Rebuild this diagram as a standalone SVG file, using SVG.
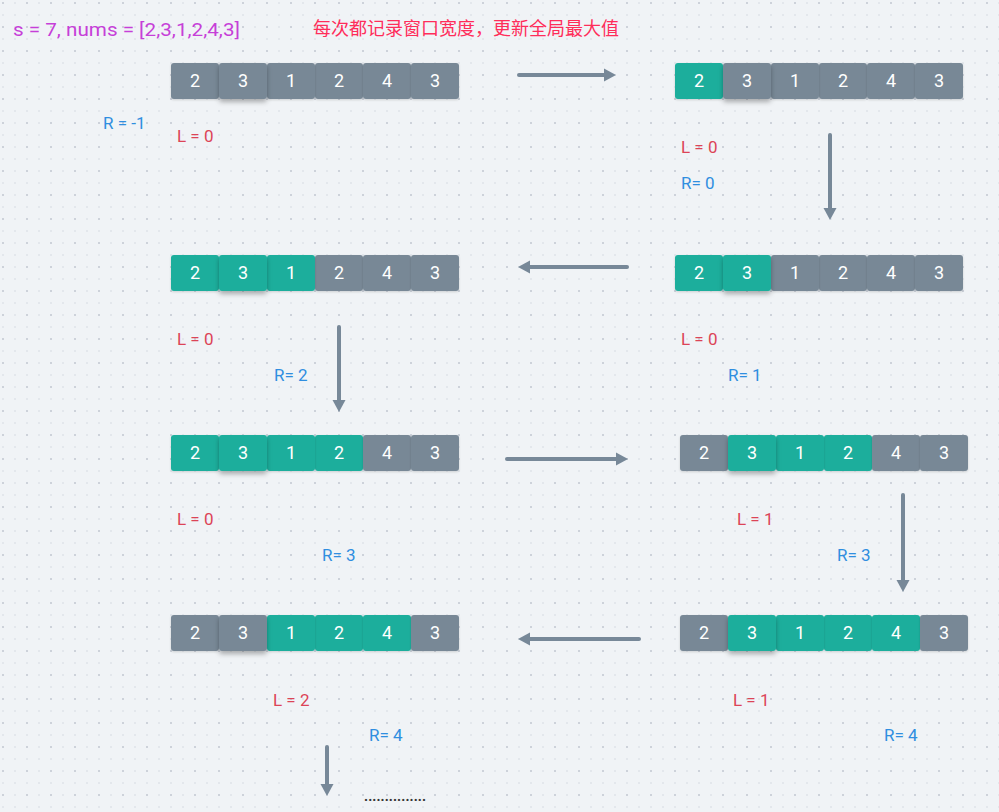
<svg xmlns="http://www.w3.org/2000/svg" width="999" height="812" viewBox="0 0 999 812">
<defs>
<pattern id="grid" x="0" y="0" width="24" height="24" patternUnits="userSpaceOnUse">
<rect x="2" y="2" width="2" height="2" fill="#cdd2da"/>
<rect x="14" y="2" width="2" height="2" fill="#e3e7ec"/>
<rect x="2" y="14" width="2" height="2" fill="#e3e7ec"/>
<rect x="14" y="14" width="2" height="2" fill="#e3e7ec"/>
</pattern>
<filter id="sh" x="-20%" y="-20%" width="140%" height="160%">
<feDropShadow dx="0" dy="1" stdDeviation="1" flood-color="#000" flood-opacity="0.15"/>
</filter>
<filter id="sh2" x="-30%" y="-30%" width="160%" height="190%">
<feDropShadow dx="0" dy="3" stdDeviation="2.5" flood-color="#000" flood-opacity="0.3"/>
</filter>
<marker id="ah" markerUnits="userSpaceOnUse" markerWidth="12" markerHeight="14" refX="2" refY="7" orient="auto">
<path d="M0,0.5 L12,7 L0,13.5 z" fill="#778898"/>
</marker>
</defs>
<style>
.g{fill:#788896}
.t{fill:#1aae9c}
.c{filter:url(#sh)}
.c2{filter:url(#sh2)}
.n{font-family:Roboto,"Liberation Sans",sans-serif;font-size:18px;fill:#fff;text-anchor:middle}
.lab{font-family:Roboto,"Liberation Sans",sans-serif;font-size:17px}
.L{fill:#dc4457}
.R{fill:#2f8ee0}
.arr{stroke:#778898;stroke-width:4;stroke-linecap:round;fill:none;marker-end:url(#ah)}
</style>
<rect width="999" height="812" fill="#f0f3f6"/>
<rect width="999" height="812" fill="url(#grid)"/>

<text x="13" y="36" font-family="Roboto,'Liberation Sans',sans-serif" font-size="19" fill="#c63fd8" textLength="227" lengthAdjust="spacingAndGlyphs">s = 7, nums = [2,3,1,2,4,3]</text>
<text x="313" y="35" font-family="'Noto Sans CJK SC',sans-serif" font-size="18" fill="#ff2d5a">每次都记录窗口宽度，更新全局最大值</text>

<g id="row1-left">
<rect class="c g" x="171" y="63" width="48" height="36" rx="3"/>
<rect class="c g" x="315" y="63" width="48" height="36" rx="3"/>
<rect class="c g" x="363" y="63" width="48" height="36" rx="3"/>
<rect class="c g" x="411" y="63" width="48" height="36" rx="3"/>
<rect class="c g" x="267" y="63" width="48" height="36" rx="3"/>
<rect class="c2 g" x="219" y="63" width="48" height="36" rx="3"/>
<text class="n" x="195" y="87">2</text><text class="n" x="243" y="87">3</text><text class="n" x="291" y="87">1</text><text class="n" x="339" y="87">2</text><text class="n" x="387" y="87">4</text><text class="n" x="435" y="87">3</text>
</g>
<g id="row1-right">
<rect class="c t" x="675" y="63" width="48" height="36" rx="3"/>
<rect class="c g" x="819" y="63" width="48" height="36" rx="3"/>
<rect class="c g" x="867" y="63" width="48" height="36" rx="3"/>
<rect class="c g" x="915" y="63" width="48" height="36" rx="3"/>
<rect class="c g" x="771" y="63" width="48" height="36" rx="3"/>
<rect class="c2 g" x="723" y="63" width="48" height="36" rx="3"/>
<text class="n" x="699" y="87">2</text><text class="n" x="747" y="87">3</text><text class="n" x="795" y="87">1</text><text class="n" x="843" y="87">2</text><text class="n" x="891" y="87">4</text><text class="n" x="939" y="87">3</text>
</g>
<g id="row2-right">
<rect class="c t" x="675" y="255" width="48" height="36" rx="3"/>
<rect class="c g" x="819" y="255" width="48" height="36" rx="3"/>
<rect class="c g" x="867" y="255" width="48" height="36" rx="3"/>
<rect class="c g" x="915" y="255" width="48" height="36" rx="3"/>
<rect class="c g" x="771" y="255" width="48" height="36" rx="3"/>
<rect class="c2 t" x="723" y="255" width="48" height="36" rx="3"/>
<text class="n" x="699" y="279">2</text><text class="n" x="747" y="279">3</text><text class="n" x="795" y="279">1</text><text class="n" x="843" y="279">2</text><text class="n" x="891" y="279">4</text><text class="n" x="939" y="279">3</text>
</g>
<g id="row2-left">
<rect class="c t" x="171" y="255" width="48" height="36" rx="3"/>
<rect class="c g" x="315" y="255" width="48" height="36" rx="3"/>
<rect class="c g" x="363" y="255" width="48" height="36" rx="3"/>
<rect class="c g" x="411" y="255" width="48" height="36" rx="3"/>
<rect class="c t" x="267" y="255" width="48" height="36" rx="3"/>
<rect class="c2 t" x="219" y="255" width="48" height="36" rx="3"/>
<text class="n" x="195" y="279">2</text><text class="n" x="243" y="279">3</text><text class="n" x="291" y="279">1</text><text class="n" x="339" y="279">2</text><text class="n" x="387" y="279">4</text><text class="n" x="435" y="279">3</text>
</g>
<g id="row3-left">
<rect class="c t" x="171" y="435" width="48" height="36" rx="3"/>
<rect class="c t" x="315" y="435" width="48" height="36" rx="3"/>
<rect class="c g" x="363" y="435" width="48" height="36" rx="3"/>
<rect class="c g" x="411" y="435" width="48" height="36" rx="3"/>
<rect class="c t" x="267" y="435" width="48" height="36" rx="3"/>
<rect class="c2 t" x="219" y="435" width="48" height="36" rx="3"/>
<text class="n" x="195" y="459">2</text><text class="n" x="243" y="459">3</text><text class="n" x="291" y="459">1</text><text class="n" x="339" y="459">2</text><text class="n" x="387" y="459">4</text><text class="n" x="435" y="459">3</text>
</g>
<g id="row3-right">
<rect class="c g" x="680" y="435" width="48" height="36" rx="3"/>
<rect class="c t" x="824" y="435" width="48" height="36" rx="3"/>
<rect class="c g" x="872" y="435" width="48" height="36" rx="3"/>
<rect class="c g" x="920" y="435" width="48" height="36" rx="3"/>
<rect class="c t" x="776" y="435" width="48" height="36" rx="3"/>
<rect class="c2 t" x="728" y="435" width="48" height="36" rx="3"/>
<text class="n" x="704" y="459">2</text><text class="n" x="752" y="459">3</text><text class="n" x="800" y="459">1</text><text class="n" x="848" y="459">2</text><text class="n" x="896" y="459">4</text><text class="n" x="944" y="459">3</text>
</g>
<g id="row4-right">
<rect class="c g" x="680" y="615" width="48" height="36" rx="3"/>
<rect class="c t" x="824" y="615" width="48" height="36" rx="3"/>
<rect class="c t" x="872" y="615" width="48" height="36" rx="3"/>
<rect class="c g" x="920" y="615" width="48" height="36" rx="3"/>
<rect class="c t" x="776" y="615" width="48" height="36" rx="3"/>
<rect class="c2 t" x="728" y="615" width="48" height="36" rx="3"/>
<text class="n" x="704" y="639">2</text><text class="n" x="752" y="639">3</text><text class="n" x="800" y="639">1</text><text class="n" x="848" y="639">2</text><text class="n" x="896" y="639">4</text><text class="n" x="944" y="639">3</text>
</g>
<g id="row4-left">
<rect class="c g" x="171" y="615" width="48" height="36" rx="3"/>
<rect class="c t" x="315" y="615" width="48" height="36" rx="3"/>
<rect class="c t" x="363" y="615" width="48" height="36" rx="3"/>
<rect class="c g" x="411" y="615" width="48" height="36" rx="3"/>
<rect class="c t" x="267" y="615" width="48" height="36" rx="3"/>
<rect class="c2 g" x="219" y="615" width="48" height="36" rx="3"/>
<text class="n" x="195" y="639">2</text><text class="n" x="243" y="639">3</text><text class="n" x="291" y="639">1</text><text class="n" x="339" y="639">2</text><text class="n" x="387" y="639">4</text><text class="n" x="435" y="639">3</text>
</g>

<g id="labels" class="lab">
<text class="R" x="103" y="129">R = -1</text>
<text class="L" x="177" y="142">L = 0</text>
<text class="L" x="681" y="153">L = 0</text>
<text class="R" x="681" y="189">R= 0</text>
<text class="L" x="177" y="345">L = 0</text>
<text class="R" x="274" y="381">R= 2</text>
<text class="L" x="681" y="345">L = 0</text>
<text class="R" x="728" y="381">R= 1</text>
<text class="L" x="177" y="525">L = 0</text>
<text class="R" x="322" y="561">R= 3</text>
<text class="L" x="737" y="525">L = 1</text>
<text class="R" x="837" y="561">R= 3</text>
<text class="L" x="273" y="706">L = 2</text>
<text class="R" x="369" y="741">R= 4</text>
<text class="L" x="733" y="706">L = 1</text>
<text class="R" x="884" y="741">R= 4</text>
</g>

<g id="connectors">
<line class="arr" x1="519" y1="75" x2="606" y2="75"/>
<line class="arr" x1="830" y1="135" x2="830" y2="210"/>
<line class="arr" x1="627" y1="267" x2="528" y2="267"/>
<line class="arr" x1="339" y1="327" x2="339" y2="402"/>
<line class="arr" x1="507" y1="459" x2="618" y2="459"/>
<line class="arr" x1="903" y1="495" x2="903" y2="582"/>
<line class="arr" x1="639" y1="639" x2="528" y2="639"/>
<line class="arr" x1="327" y1="747" x2="327" y2="786"/>
</g>
<text x="364" y="801" font-family="Roboto,'Liberation Sans',sans-serif" font-size="14" font-weight="bold" fill="#333" textLength="62" lengthAdjust="spacing">...............</text>
</svg>
